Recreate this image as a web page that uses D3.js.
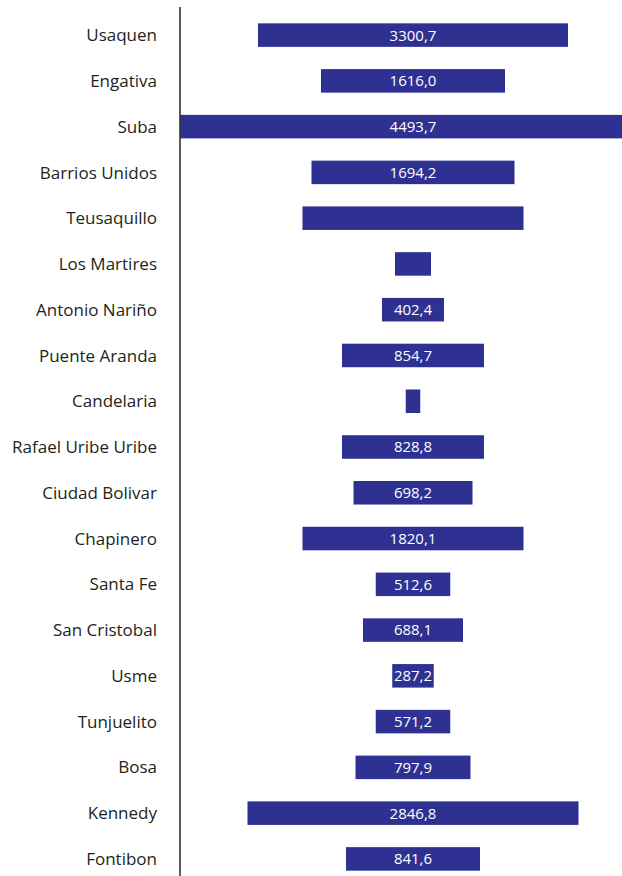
<!DOCTYPE html>
<html>
<head>
<meta charset="utf-8">
<script src="https://cdn.jsdelivr.net/npm/d3@7"></script>
<style>
    body { margin: 0; background: #fff; }
    svg { display: block; }
</style>
</head>
<body>
<div class="funnel-chart"></div>
<script>
// Localidades (top to bottom)
const localidades = ["Usaquen", "Engativa", "Suba", "Barrios Unidos", "Teusaquillo", "Los Martires",
    "Antonio Nariño", "Puente Aranda", "Candelaria", "Rafael Uribe Uribe", "Ciudad Bolivar", "Chapinero",
    "Santa Fe", "San Cristobal", "Usme", "Tunjuelito", "Bosa", "Kennedy", "Fontibon"];

// Value printed inside each bar (null = no label shown)
const valores = [3300.7, 1616.0, 4493.7, 1694.2, null, null,
    402.4, 854.7, null, 828.8, 698.2, 1820.1,
    512.6, 688.1, 287.2, 571.2, 797.9, 2846.8, 841.6];

// Bar length as drawn (relative units)
const largoBarra = [3100, 1840, 5200, 2030, 2210, 360,
    620, 1420, 145, 1420, 1190, 2210,
    745, 1000, 415, 745, 1150, 3310, 1340];

const WIDTH = 622, HEIGHT = 876;
const BAR_COLOR = "#2e3192";

let svg = d3.select(".funnel-chart").append("svg")
    .attr("width", WIDTH).attr("height", HEIGHT);

let axisX = 180;

// symmetric scale: bars are centred on 0
let x = d3.scaleLinear()
    .domain([-2500, 2500])
    .range([163, 663]);

let y = d3.scaleBand()
    .domain(localidades)
    .range([0, 894])
    .paddingInner(0.486)
    .paddingOuter(0.51);

let fmt = d3.formatLocale({decimal: ",", thousands: "", grouping: [3], currency: ["", ""]}).format(".1f");

let data = localidades.map(function (d, i) {
    return {name: d, value: valores[i], len: largoBarra[i]};
});

svg.append("clipPath").attr("id", "plot-clip")
    .append("rect")
    .attr("x", axisX).attr("y", 0)
    .attr("width", WIDTH - axisX).attr("height", HEIGHT);

let bars = svg.append("g").attr("clip-path", "url(#plot-clip)");

bars.selectAll("rect")
    .data(data)
    .enter().append("rect")
    .attr("x", function (d) { return x(-d.len / 2); })
    .attr("y", function (d) { return y(d.name); })
    .attr("width", function (d) { return x(d.len / 2) - x(-d.len / 2); })
    .attr("height", y.bandwidth())
    .attr("fill", BAR_COLOR);

bars.selectAll("text")
    .data(data.filter(function (d) { return d.value !== null; }))
    .enter().append("text")
    .attr("x", x(0))
    .attr("y", function (d) { return y(d.name) + y.bandwidth() / 2; })
    .attr("dy", "0.36em")
    .attr("text-anchor", "middle")
    .attr("fill", "#fff")
    .style("font-family", "'Open Sans', sans-serif")
    .style("font-size", "15px")
    .text(function (d) { return fmt(d.value); });

// category axis
let axis = svg.append("g")
    .attr("class", "funnel-chart__axis-left")
    .attr("transform", "translate(" + axisX + ",0)")
    .call(d3.axisLeft(y).tickSize(0).tickPadding(23));

axis.select(".domain").remove();
axis.selectAll("text")
    .attr("fill", "#231f20")
    .attr("dy", "0.36em")
    .style("font-family", "'Open Sans', sans-serif")
    .style("font-size", "17px");

svg.append("line")
    .attr("x1", axisX).attr("x2", axisX)
    .attr("y1", 7).attr("y2", HEIGHT)
    .attr("stroke", "#333")
    .attr("stroke-width", 1.6);
</script>
</body>
</html>
